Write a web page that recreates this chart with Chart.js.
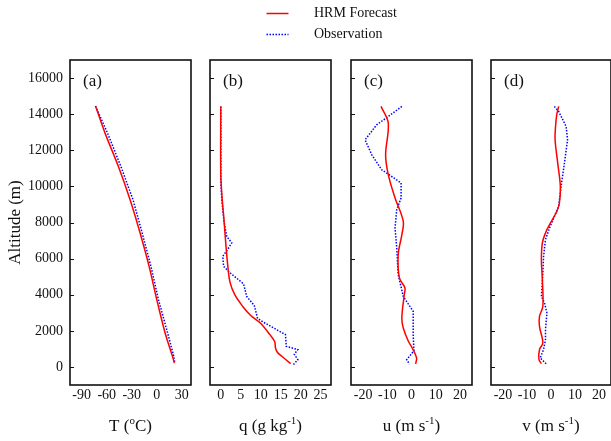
<!DOCTYPE html>
<html>
<head>
<meta charset="utf-8">
<title>HRM Forecast vs Observation</title>
<script src="https://cdn.jsdelivr.net/npm/chart.js@4.4.1/dist/chart.umd.min.js"></script>
<style>
  html, body { margin: 0; padding: 0; background: #fff; overflow: hidden; }
  #wrap { position: relative; width: 611px; height: 441px; }
  #wrap canvas { position: absolute; left: 0; top: 0; }
</style>
</head>
<body>
<div id="wrap">
  <canvas id="panelA" width="611" height="441"></canvas>
  <canvas id="panelB" width="611" height="441"></canvas>
  <canvas id="panelC" width="611" height="441"></canvas>
  <canvas id="panelD" width="611" height="441"></canvas>
</div>
<script>
// --- Tick labels ---
const altTicks = [0, 2000, 4000, 6000, 8000, 10000, 12000, 14000, 16000];
const tTicks = [-90, -60, -30, 0, 30];
const qTicks = [0, 5, 10, 15, 20, 25];
const windTicks = [-20, -10, 0, 10, 20];

const seriesNames = ['HRM Forecast', 'Observation'];

// --- Profiles: [value, altitude (m)] ---
const tHrm = [[-73.2,14430],[-62,12950],[-46,11100],[-32,9260],[-20,7420],[-9.2,5570],[0,3730],[10,1880],[18.8,590],[21,220]];
const tObs = [[-73.5,14450],[-59,12950],[-43,11100],[-28.5,9260],[-17.5,7420],[-7,5570],[2,3730],[13,1880],[20.4,590],[21.5,220]];

const qHrm = [[0,14430],[0,10700],[0.3,9450],[0.8,8150],[1.3,6700],[1.8,5500],[2.3,4700],[3.5,4000],[5.5,3350],[7.5,2850],[9.9,2430],[12.3,1790],[13.5,1400],[13.7,1050],[14.2,800],[15.3,590],[17.5,180]];
const qObs = [[0,14430],[0,10400],[0.25,9260],[0.8,8060],[1.5,7230],[2.75,6870],[1.7,6500],[0.5,6130],[0.7,5570],[2.4,5200],[5.7,4600],[6.5,3900],[8.4,3400],[9.2,2700],[10.5,2500],[16.2,1790],[16.4,1140],[19.3,960],[18.4,700],[19.3,400],[18.2,130]];

const uHrm = [[-12.6,14430],[-9.6,13510],[-10.7,11750],[-9.6,10650],[-6.8,9360],[-3.4,8060],[-4,7320],[-5.5,6220],[-5,4930],[-2.7,4370],[-3,4000],[-4,2710],[-3.4,2160],[-1.3,1420],[0.3,1050],[2.1,500],[1.7,170]];
const uObs = [[-4,14430],[-9.6,13870],[-14.4,13410],[-19.2,12580],[-16.4,11750],[-12.3,10920],[-8.2,10550],[-4.3,10190],[-4.3,9360],[-6.1,8710],[-6.8,7700],[-6.1,6590],[-5.5,5110],[-3.4,3910],[0.7,3080],[0.7,1790],[1.0,900],[-2,400],[-0.8,150]];

const vHrm = [[3.2,14430],[2.4,13970],[1.9,13320],[1.7,12580],[2.8,11290],[3.9,10000],[3.5,9080],[2.4,8610],[-0.6,7880],[-2.3,7420],[-3.6,6870],[-4,5940],[-3.6,4830],[-3.4,3360],[-4.8,2800],[-4.8,2250],[-3.4,1330],[-4.8,960],[-5,400],[-4,180]];
const vObs = [[1.4,14430],[3.2,14150],[6.3,13320],[6.9,12580],[5.6,11290],[4.2,10000],[3.2,8890],[1.4,8340],[-0.6,7700],[-2.3,7050],[-3.1,6120],[-3.4,5200],[-4,3910],[-2.7,3540],[-1.7,2990],[-2.3,2070],[-2.3,1510],[-3.1,960],[-4.5,500],[-1.7,130]];

const FONT = '"Liberation Serif", "Times New Roman", serif';
const INK = '#111';
const W = 611, H = 441;
const PLOT_TOP = 60, PLOT_BOTTOM = 385;

Chart.defaults.font.family = FONT;
Chart.defaults.color = INK;

// --- Text with superscript parts, centred on cx ---
function drawRichText(ctx, parts, cx, baseline) {
  const fonts = parts.map(p => p[1] ? '11px ' + FONT : '17px ' + FONT);
  const widths = parts.map((p, i) => { ctx.font = fonts[i]; return ctx.measureText(p[0]).width; });
  let x = cx - widths.reduce((s, w) => s + w, 0) / 2;
  ctx.textAlign = 'left';
  ctx.textBaseline = 'alphabetic';
  parts.forEach((p, i) => {
    ctx.font = fonts[i];
    ctx.fillText(p[0], x, p[1] ? baseline - 7 : baseline);
    x += widths[i];
  });
}

// --- Legend on top, drawn from the datasets' own styles ---
function drawLegend(chart) {
  const { ctx } = chart;
  const rows = [13.5, 34.5];
  chart.data.datasets.forEach((ds, i) => {
    ctx.save();
    ctx.strokeStyle = ds.borderColor;
    ctx.lineWidth = ds.borderWidth;
    ctx.setLineDash(ds.borderDash || []);
    ctx.beginPath();
    ctx.moveTo(266.5, rows[i]);
    ctx.lineTo(288.5, rows[i]);
    ctx.stroke();
    ctx.restore();
    ctx.fillStyle = INK;
    ctx.font = '14px ' + FONT;
    ctx.textAlign = 'left';
    ctx.textBaseline = 'middle';
    ctx.fillText(ds.label, 314, rows[i]);
  });
}

// --- Frame, inward ticks, panel letter, x title ---
const panelFrame = {
  id: 'panelFrame',
  afterDraw(chart, args, opts) {
    const { ctx, chartArea: a } = chart;
    const yScale = chart.scales.y;
    ctx.save();
    ctx.strokeStyle = INK;
    ctx.lineWidth = 1.6;
    ctx.strokeRect(a.left, a.top, a.right - a.left, a.bottom - a.top);

    ctx.lineWidth = 1;
    yScale.ticks.forEach(t => {
      const py = Math.round(yScale.getPixelForValue(t.value)) + 0.5;
      ctx.beginPath();
      ctx.moveTo(a.left, py);
      ctx.lineTo(a.left + 4, py);
      ctx.stroke();
    });

    ctx.fillStyle = INK;
    ctx.font = '17px ' + FONT;
    ctx.textAlign = 'left';
    ctx.textBaseline = 'middle';
    ctx.fillText(opts.letter, a.left + 13, a.top + 22);

    drawRichText(ctx, opts.title, (a.left + a.right) / 2, 431);
    if (opts.legend) drawLegend(chart);
    ctx.restore();
  }
};

function toPoints(rows) {
  return rows.map(r => ({ x: r[0], y: r[1] }));
}

// --- One panel = one chart on its own canvas ---
function makePanel(cfg) {
  const ctx = document.getElementById(cfg.id).getContext('2d');
  return new Chart(ctx, {
    type: 'line',
    data: {
      datasets: [{
        label: seriesNames[0],
        data: toPoints(cfg.fcst),
        borderColor: '#ff0000',
        borderWidth: 1.5,
        tension: 0.35,
        pointRadius: 0,
        fill: false
      }, {
        label: seriesNames[1],
        data: toPoints(cfg.obs),
        borderColor: '#0000ff',
        borderWidth: 1.5,
        borderDash: [1.5, 1.5],
        tension: 0,
        pointRadius: 0,
        fill: false
      }]
    },
    options: {
      responsive: false,
      animation: false,
      events: [],
      layout: { padding: { top: PLOT_TOP, left: 0, right: W - cfg.right, bottom: 0 } },
      plugins: {
        legend: { display: false },
        tooltip: { enabled: false },
        panelFrame: { letter: cfg.letter, title: cfg.title, legend: cfg.legend }
      },
      scales: {
        x: {
          type: 'linear',
          position: 'bottom',
          min: cfg.min,
          max: cfg.max,
          grid: { display: false, drawTicks: false },
          border: { display: false },
          ticks: { font: { size: 14 }, padding: 2, maxRotation: 0, callback: v => String(v) },
          afterBuildTicks: s => { s.ticks = cfg.ticks.map(v => ({ value: v })); },
          afterFit: s => { s.height = H - PLOT_BOTTOM; }
        },
        y: {
          type: 'linear',
          position: 'left',
          min: -1000,
          max: 17000,
          grid: { display: false, drawTicks: false },
          border: { display: false },
          ticks: { display: cfg.yLabels, font: { size: 14 }, padding: 7, callback: v => String(v) },
          title: {
            display: cfg.yLabels,
            text: 'Altitude (m)',
            font: { size: 17 },
            padding: { top: 5, bottom: 0 }
          },
          afterBuildTicks: s => { s.ticks = altTicks.map(v => ({ value: v })); },
          afterFit: s => { s.width = cfg.left; }
        }
      }
    },
    plugins: [panelFrame]
  });
}

const panels = [
  { id: 'panelA', letter: '(a)', left: 70, right: 191, min: -104, max: 41, ticks: tTicks,
    fcst: tHrm, obs: tObs, yLabels: true, legend: true,
    title: [['T (', false], ['o', true], ['C)', false]] },
  { id: 'panelB', letter: '(b)', left: 210, right: 331, min: -2.7, max: 27.6, ticks: qTicks,
    fcst: qHrm, obs: qObs, yLabels: false, legend: false,
    title: [['q (g kg', false], ['-1', true], [')', false]] },
  { id: 'panelC', letter: '(c)', left: 351, right: 472, min: -25, max: 25, ticks: windTicks,
    fcst: uHrm, obs: uObs, yLabels: false, legend: false,
    title: [['u (m s', false], ['-1', true], [')', false]] },
  { id: 'panelD', letter: '(d)', left: 491, right: 612, min: -25, max: 25, ticks: windTicks,
    fcst: vHrm, obs: vObs, yLabels: false, legend: false,
    title: [['v (m s', false], ['-1', true], [')', false]] }
];

panels.forEach(makePanel);
</script>
</body>
</html>
